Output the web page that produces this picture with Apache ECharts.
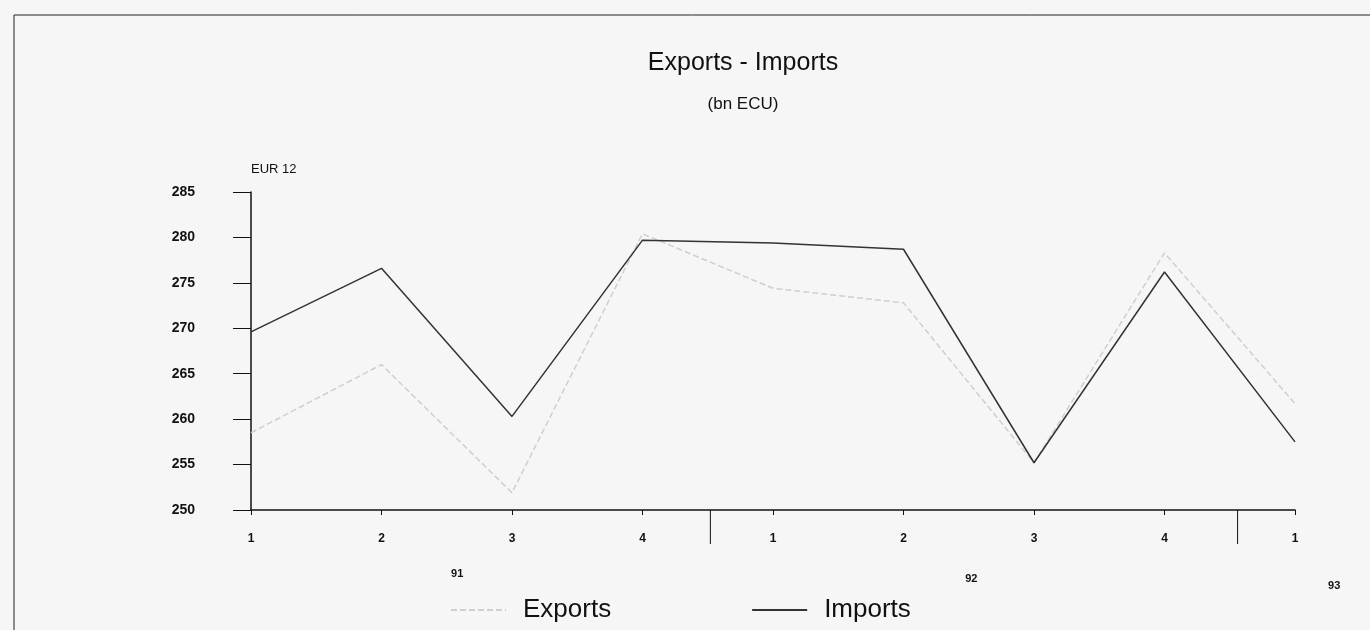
<!DOCTYPE html>
<html><head><meta charset="utf-8">
<script src="https://cdn.jsdelivr.net/npm/echarts@6/dist/echarts.min.js"></script>
<style>html,body{margin:0;padding:0;background:#f6f6f6}#c{width:1370px;height:630px}</style>
</head><body><div id="c"></div>
<script>
var quarters = ['1','2','3','4','1','2','3','4','1'];
var years = ['91','92','93'];
var exportsData = [258.5, 266.0, 251.9, 280.4, 274.4, 272.8, 255.2, 278.3, 261.7];
var importsData = [269.6, 276.6, 260.3, 279.7, 279.4, 278.7, 255.2, 276.2, 257.5];
var yMin = 250, yMax = 285, yStep = 5;

var chart = echarts.init(document.getElementById('c'));
var narrow = '"Liberation Sans Narrow", "Liberation Sans", Arial, sans-serif';
var option = {
  backgroundColor: '#f6f6f6',
  animation: false,
  title: {
    text: 'Exports - Imports', subtext: '(bn ECU)', left: 738, textAlign: 'center', top: 46, itemGap: 20,
    textStyle: {fontFamily: narrow, fontSize: 25, fontWeight: 'normal', color: '#111'},
    subtextStyle: {fontFamily: narrow, fontSize: 17, color: '#111'}
  },
  legend: {
    left: 445, top: 592, itemWidth: 55, itemHeight: 10, itemGap: 140,
    itemStyle: {opacity: 0},
    textStyle: {fontFamily: narrow, fontSize: 26, color: '#111', padding: [0, 0, 0, 12]},
    data: ['Exports', 'Imports']
  },
  grid: {left: 251, right: 75, top: 192, bottom: 120},
  xAxis: {
    type: 'category', data: quarters, boundaryGap: false,
    axisLine: {lineStyle: {color: '#111', width: 1.5}},
    axisTick: {show: true, length: 5, lineStyle: {color: '#111'}},
    axisLabel: {margin: 23, fontFamily: 'Liberation Sans, Arial', fontWeight: 'bold', fontSize: 12, color: '#111'}
  },
  yAxis: {
    type: 'value', min: yMin, max: yMax, interval: yStep,
    name: 'EUR 12', nameLocation: 'end', nameGap: 16,
    nameTextStyle: {fontFamily: 'Liberation Sans, Arial', fontSize: 13, color: '#111', align: 'left'},
    splitLine: {show: false},
    axisLine: {show: true, lineStyle: {color: '#111', width: 1.5}},
    axisTick: {show: true, length: 18, lineStyle: {color: '#111'}},
    axisLabel: {margin: 56, fontFamily: 'Liberation Sans, Arial', fontWeight: 'bold', fontSize: 14, color: '#111'}
  },
  series: [
    {name: 'Exports', type: 'line', data: exportsData, symbol: 'none', z: 2,
     lineStyle: {color: '#cfcfcf', width: 1.5, type: [6, 3]}, itemStyle: {color: '#cfcfcf'}},
    {name: 'Imports', type: 'line', data: importsData, symbol: 'none', z: 3,
     lineStyle: {color: '#333', width: 1.5}, itemStyle: {color: '#333'}}
  ]
};
chart.setOption(option);

// year separators and year labels, positioned through the axis scale
var base = chart.convertToPixel({gridIndex: 0}, [0, yMin]);
function px(k) {
  var i = Math.floor(k), a = chart.convertToPixel({xAxisIndex: 0}, 0), b = chart.convertToPixel({xAxisIndex: 0}, 1);
  return chart.convertToPixel({xAxisIndex: 0}, i) + (b - a) * (k - i);
}
var g = [{type: 'rect', shape: {x: 14, y: 15, width: 1400, height: 700},
          style: {fill: 'none', stroke: '#222', lineWidth: 1}, silent: true}];
[3.52, 7.56].forEach(function (k) {
  var x = px(k);
  g.push({type: 'line', shape: {x1: x, y1: base[1], x2: x, y2: base[1] + 34},
          style: {stroke: '#111', lineWidth: 1}});
});
var yearPos = [[1.58, 58], [5.52, 63], [8.3, 70]];
years.forEach(function (t, i) {
  var p = yearPos[i];
  g.push({type: 'text', x: px(p[0]), y: base[1] + p[1],
          style: {text: t, fontFamily: 'Liberation Sans, Arial', fontWeight: 'bold', fontSize: 11, fill: '#111', align: 'center'}});
});
chart.setOption({graphic: g});
</script></body></html>
